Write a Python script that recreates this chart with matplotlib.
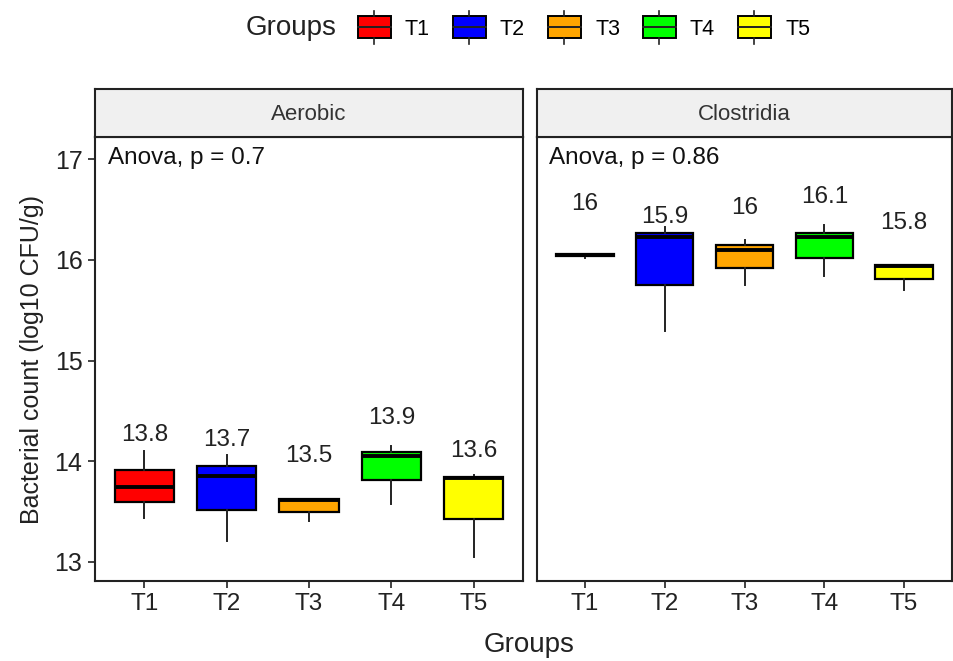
import matplotlib
matplotlib.use("Agg")
import matplotlib.pyplot as plt
from matplotlib.patches import Rectangle, Patch
from matplotlib.lines import Line2D
from matplotlib.legend_handler import HandlerBase

plt.rcParams["font.family"] = ["Liberation Sans", "DejaVu Sans"]

# données
groupes = ["T1", "T2", "T3", "T4", "T5"]
couleurs = ["#FF0000", "#0000FF", "#FFA500", "#00FF00", "#FFFF00"]
panneaux = ["Aerobic", "Clostridia"]
anova = ["Anova, p = 0.7", "Anova, p = 0.86"]

aer_whislo = [13.44, 13.21, 13.41, 13.57, 13.05]
aer_q1 = [13.59, 13.52, 13.50, 13.81, 13.43]
aer_med = [13.74, 13.85, 13.61, 14.05, 13.83]
aer_q3 = [13.915, 13.95, 13.62, 14.09, 13.845]
aer_whishi = [14.10, 14.06, 13.62, 14.15, 13.86]
aer_moy = ["13.8", "13.7", "13.5", "13.9", "13.6"]
aer_label_y = [14.26, 14.21, 14.05, 14.43, 14.10]

clo_whislo = [16.02, 15.29, 15.75, 15.84, 15.70]
clo_q1 = [16.04, 15.75, 15.92, 16.02, 15.81]
clo_med = [16.05, 16.23, 16.10, 16.23, 15.94]
clo_q3 = [16.06, 16.27, 16.15, 16.27, 15.95]
clo_whishi = [16.06, 16.33, 16.20, 16.35, 15.95]
clo_moy = ["16", "15.9", "16", "16.1", "15.8"]
clo_label_y = [16.55, 16.43, 16.51, 16.62, 16.37]

donnees = [
    (aer_whislo, aer_q1, aer_med, aer_q3, aer_whishi, aer_moy, aer_label_y),
    (clo_whislo, clo_q1, clo_med, clo_q3, clo_whishi, clo_moy, clo_label_y),
]


# clé de légende en forme de boîte à moustaches
class BoxHandler(HandlerBase):
    def create_artists(self, legend, orig_handle, xdescent, ydescent,
                       width, height, fontsize, trans):
        x0, y0 = -xdescent, -ydescent
        rect = Rectangle((x0, y0), width, height, facecolor=orig_handle.get_facecolor(),
                         edgecolor="black", lw=1.4, transform=trans)
        med = Line2D([x0, x0 + width], [y0 + height / 2] * 2, color="#222222", lw=1.4, transform=trans)
        wt = Line2D([x0 + width / 2] * 2, [y0 + height, y0 + height * 1.25], color="#222222", lw=1.2, transform=trans)
        wb = Line2D([x0 + width / 2] * 2, [y0, y0 - height * 0.25], color="#222222", lw=1.2, transform=trans)
        return [rect, med, wt, wb]


fig = plt.figure(figsize=(9.54, 6.61), dpi=100)

H = 661.0
W = 954.0
bas = (H - 581) / H
haut_panneau = (581 - 137) / H
haut_bande = (137 - 89) / H
positions = [(95 / W, 428 / W), (537 / W, 415 / W)]

for i, (nom, (x0, larg)) in enumerate(zip(panneaux, positions)):
    wlo, q1, med, q3, whi, moy, ly = donnees[i]
    ax = fig.add_axes([x0, bas, larg, haut_panneau])
    stats = []
    for k in range(len(groupes)):
        stats.append({"whislo": wlo[k], "q1": q1[k], "med": med[k], "q3": q3[k],
                      "whishi": whi[k], "fliers": []})
    pos = list(range(1, len(groupes) + 1))
    b = ax.bxp(stats, positions=pos, widths=0.72, patch_artist=True, showcaps=False,
               boxprops=dict(edgecolor="black", linewidth=1.6),
               medianprops=dict(color="black", linewidth=2.8),
               whiskerprops=dict(color="#222222", linewidth=1.4))
    for patch, c in zip(b["boxes"], couleurs):
        patch.set_facecolor(c)
    for k in range(len(groupes)):
        ax.text(pos[k], ly[k], moy[k], ha="center", va="center", fontsize=17.5, color="#222222")
    ax.text(0.03, 0.978, anova[i], transform=ax.transAxes, ha="left", va="top",
            fontsize=17.5, color="#111111")

    ax.set_xlim(0.4, 5.6)
    ax.set_ylim(12.81, 17.22)
    ax.set_xticks(pos)
    ax.set_xticklabels(groupes, fontsize=17.5, color="#222222")
    ax.set_yticks([13, 14, 15, 16, 17])
    ax.tick_params(axis="both", direction="out", length=5, width=1.2, color="#222222", pad=4)
    if i == 0:
        ax.set_yticklabels(["13", "14", "15", "16", "17"], fontsize=18, color="#222222")
        ax.set_ylabel("Bacterial count (log10 CFU/g)", fontsize=18, color="#222222", labelpad=8)
    else:
        ax.tick_params(axis="y", left=False, labelleft=False)
    for s in ax.spines.values():
        s.set_linewidth(1.5)
        s.set_color("#222222")

    # bande de titre du panneau
    bande = fig.add_axes([x0, bas + haut_panneau, larg, haut_bande])
    bande.set_facecolor("#F0F0F0")
    bande.set_xticks([])
    bande.set_yticks([])
    for s in bande.spines.values():
        s.set_linewidth(1.5)
        s.set_color("#222222")
    bande.text(0.5, 0.46, nom, transform=bande.transAxes, ha="center", va="center",
               fontsize=16, color="#333333")

fig.text(529 / W, 1 - 645 / H, "Groups", ha="center", va="center", fontsize=20, color="#222222")

# légende en haut
poignees = [Patch(facecolor=c, edgecolor="black") for c in couleurs]
fig.text(291 / W, 1 - 28 / H, "Groups", ha="center", va="center", fontsize=20, color="#222222")
fig.legend(poignees, groupes, handler_map={Patch: BoxHandler()}, loc="center left",
           bbox_to_anchor=(349 / W, 1 - 28 / H), ncol=5, frameon=False, fontsize=15.5,
           handlelength=1.55, handleheight=1.2, handletextpad=0.65, columnspacing=1.05,
           borderaxespad=0)

fig.savefig("out.png", dpi=100)
